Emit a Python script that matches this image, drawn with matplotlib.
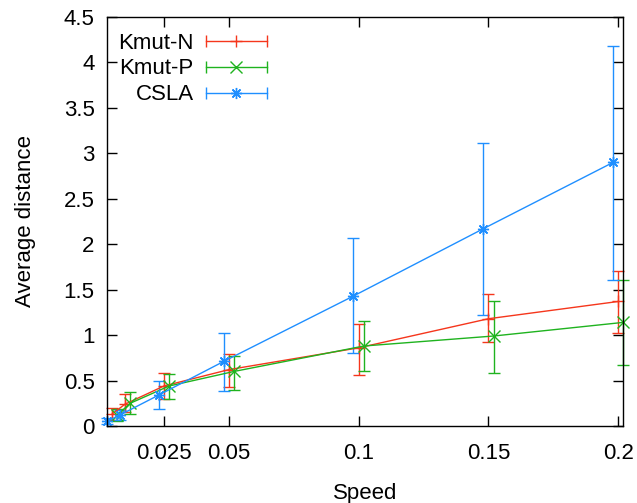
import numpy as np
import matplotlib
matplotlib.use("Agg")
import matplotlib.pyplot as plt
from matplotlib.legend_handler import HandlerBase
from matplotlib.lines import Line2D

plt.rcParams['font.family'] = ['Liberation Sans', 'DejaVu Sans']

# === Data ===
speed = np.array([0.005, 0.01, 0.025, 0.05, 0.1, 0.15, 0.2])

kmut_n = np.array([0.13, 0.24, 0.44, 0.62, 0.86, 1.18, 1.37])
kmut_n_lo = np.array([0.07, 0.15, 0.30, 0.43, 0.56, 0.92, 1.02])
kmut_n_hi = np.array([0.20, 0.35, 0.58, 0.79, 1.12, 1.45, 1.71])

kmut_p = np.array([0.12, 0.25, 0.44, 0.60, 0.88, 0.99, 1.14])
kmut_p_lo = np.array([0.06, 0.13, 0.30, 0.40, 0.60, 0.58, 0.67])
kmut_p_hi = np.array([0.19, 0.37, 0.57, 0.77, 1.15, 1.38, 1.61])

csla = np.array([0.05, 0.12, 0.34, 0.71, 1.43, 2.17, 2.90])
csla_lo = np.array([0.02, 0.07, 0.19, 0.38, 0.80, 1.22, 1.61])
csla_hi = np.array([0.09, 0.18, 0.49, 1.02, 2.07, 3.11, 4.18])

xticks = [0.025, 0.05, 0.1, 0.15, 0.2]
xticklabels = ["0.025", "0.05", "0.1", "0.15", "0.2"]
yticks = [0, 0.5, 1, 1.5, 2, 2.5, 3, 3.5, 4, 4.5]
yticklabels = ["0", "0.5", "1", "1.5", "2", "2.5", "3", "3.5", "4", "4.5"]

# series: label, values, lo, hi, x shift (dodge), colour, marker
series = [
    ("Kmut-N", kmut_n, kmut_n_lo, kmut_n_hi, 0.0, "#f5361c", "+"),
    ("Kmut-P", kmut_p, kmut_p_lo, kmut_p_hi, 0.002, "#1fb31f", "x"),
    ("CSLA", csla, csla_lo, csla_hi, -0.002, "#1f8fff", (8, 2, 0)),
]


# gnuplot-style legend sample: horizontal bar with caps, marker in the middle
class BarHandle(HandlerBase):
    def create_artists(self, legend, orig, xdescent, ydescent, width, height,
                       fontsize, trans):
        y = height / 2 - ydescent
        x0, x1 = -xdescent, width - xdescent
        c = orig.get_color()
        bar = Line2D([x0, x1], [y, y], color=c, lw=1, marker="|", ms=8,
                     mew=1, transform=trans)
        mk = Line2D([(x0 + x1) / 2], [y], color=c, ls="none",
                    marker=orig.get_marker(), ms=orig.get_markersize(),
                    mew=orig.get_markeredgewidth(), transform=trans)
        return [bar, mk]


fig = plt.figure(figsize=(6.37, 5.03), dpi=100)
ax = fig.add_axes([0.168, 0.1531, 0.8096, 0.8131])

handles = []
for label, y, lo, hi, dx, col, mk in series:
    cont = ax.errorbar(speed + dx, y, yerr=[y - lo, hi - y], color=col,
                       marker=mk, ms=8, mew=1, lw=1, elinewidth=1,
                       capsize=4, capthick=1, label=label)
    for art in [cont[0], *cont[1], *cont[2]]:
        art.set_clip_on(False)
    handles.append(cont[0])

ax.set_xlim(0.00308, 0.20173)
ax.set_ylim(0, 4.5)
ax.set_xticks(xticks)
ax.set_xticklabels(xticklabels)
ax.set_yticks(yticks)
ax.set_yticklabels(yticklabels)
ax.tick_params(direction="in", length=7, width=1, top=True, right=True,
               labelsize=16, colors="black")
ax.tick_params(axis="x", pad=12)
ax.tick_params(axis="y", pad=9)
for s in ax.spines.values():
    s.set_linewidth(1)

ax.set_xlabel("Speed", fontsize=16, labelpad=14)
ax.set_ylabel("Average distance", fontsize=16, labelpad=20)

ax.legend(handles=handles, labels=[s[0] for s in series],
          handler_map={h: BarHandle() for h in handles},
          loc="upper left", bbox_to_anchor=(0.0213, 0.962), borderpad=0,
          borderaxespad=0, frameon=False, markerfirst=False, fontsize=16,
          handlelength=2.75, handletextpad=0.54, labelspacing=0.22)

fig.savefig("out.png", dpi=100)
